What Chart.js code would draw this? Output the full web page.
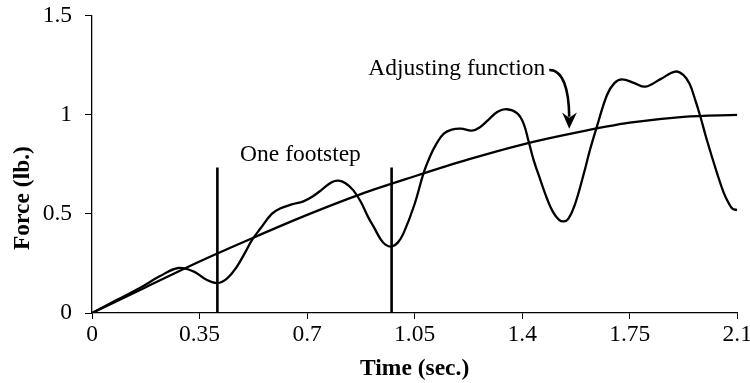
<!DOCTYPE html>
<html>
<head>
<meta charset="utf-8">
<script src="https://cdn.jsdelivr.net/npm/chart.js@4.4.1/dist/chart.umd.min.js"></script>
<style>
  html, body { margin: 0; padding: 0; background: #fff; }
  #wrap { width: 750px; height: 383px; position: relative; }
</style>
</head>
<body>
<div id="wrap"><canvas id="c" width="750" height="383"></canvas></div>
<script>
// ---- data ----
const forceTimes  = [0, 0.08, 0.16, 0.22, 0.281, 0.33, 0.37, 0.408, 0.44, 0.47, 0.50, 0.521, 0.55, 0.585, 0.612, 0.65, 0.688, 0.72, 0.75, 0.78, 0.802, 0.825, 0.85, 0.875, 0.90, 0.916, 0.94, 0.955, 0.975, 0.995, 1.014, 1.05, 1.079, 1.10, 1.122, 1.145, 1.171, 1.2, 1.236, 1.26, 1.29, 1.32, 1.35, 1.383, 1.404, 1.421, 1.437, 1.459, 1.48, 1.50, 1.52, 1.535, 1.55, 1.57, 1.60, 1.62, 1.643, 1.676, 1.70, 1.725, 1.765, 1.801, 1.85, 1.898, 1.925, 1.945, 1.962, 1.98, 2.001, 2.034, 2.055, 2.07, 2.085, 2.1];
const forceValues = [0, 0.065, 0.13, 0.185, 0.227, 0.21, 0.17, 0.151, 0.175, 0.23, 0.31, 0.369, 0.43, 0.50, 0.527, 0.548, 0.563, 0.59, 0.625, 0.66, 0.668, 0.655, 0.62, 0.56, 0.48, 0.437, 0.37, 0.345, 0.335, 0.355, 0.403, 0.55, 0.706, 0.79, 0.857, 0.905, 0.925, 0.93, 0.92, 0.935, 0.975, 1.015, 1.028, 1.008, 0.958, 0.865, 0.773, 0.672, 0.58, 0.51, 0.47, 0.462, 0.475, 0.54, 0.70, 0.82, 0.94, 1.10, 1.16, 1.179, 1.16, 1.142, 1.18, 1.218, 1.20, 1.155, 1.08, 0.99, 0.873, 0.706, 0.61, 0.56, 0.525, 0.52];

const adjTimes  = [0, 0.175, 0.35, 0.525, 0.7, 0.875, 1.05, 1.225, 1.4, 1.575, 1.75, 1.925, 2.1];
const adjValues = [0, 0.13, 0.26, 0.38, 0.495, 0.60, 0.69, 0.775, 0.85, 0.91, 0.96, 0.99, 1.0];

const footstepTimes  = [0.408, 0.975];
const footstepHeight = 0.734;

const xTickValues = [0, 0.35, 0.7, 1.05, 1.4, 1.75, 2.1];
const xTickLabels = ['0', '0.35', '0.7', '1.05', '1.4', '1.75', '2.1'];
const yTickValues = [0, 0.5, 1, 1.5];
const yTickLabels = ['0', '0.5', '1', '1.5'];

const xTitle = 'Time (sec.)';
const yTitle = 'Force (lb.)';
const footstepLabel = 'One footstep';
const adjustLabel = 'Adjusting function';

// ---- build datasets ----
const toPts = (xs, ys) => xs.map((x, i) => ({ x: x, y: ys[i] }));
const FONT = '"Liberation Serif", "Times New Roman", serif';
const FS = 23.5;

const datasets = [
  {
    label: 'Force',
    data: toPts(forceTimes, forceValues),
    borderColor: '#000', borderWidth: 2.3, pointRadius: 0,
    tension: 0.4, fill: false
  },
  {
    label: 'Adjusting function',
    data: toPts(adjTimes, adjValues),
    borderColor: '#000', borderWidth: 2.3, pointRadius: 0,
    cubicInterpolationMode: 'monotone', fill: false
  }
];
footstepTimes.forEach((t, i) => {
  datasets.push({
    label: 'Footstep ' + (i + 1),
    data: [{ x: t, y: 0 }, { x: t, y: footstepHeight }],
    borderColor: '#000', borderWidth: 2.6, pointRadius: 0, tension: 0, fill: false
  });
});

// ---- annotation plugin (text + curved arrow, placed in data coordinates) ----
const annotations = {
  id: 'annotations',
  afterDatasetsDraw(chart) {
    const { ctx } = chart;
    const xs = chart.scales.x, ys = chart.scales.y;
    const P = (t, v) => [xs.getPixelForValue(t), ys.getPixelForValue(v)];
    ctx.save();
    ctx.fillStyle = '#000';
    ctx.strokeStyle = '#000';
    ctx.font = FS + 'px ' + FONT;
    ctx.textBaseline = 'alphabetic';
    ctx.textAlign = 'left';
    let p = P(0.482, 0.768);
    ctx.fillText(footstepLabel, p[0], p[1]);
    ctx.textAlign = 'right';
    p = P(1.475, 1.201);
    ctx.fillText(adjustLabel, p[0], p[1]);

    // curved arrow
    const s = P(1.488, 1.226), c1 = P(1.532, 1.228), c2 = P(1.552, 1.13), e = P(1.553, 0.99);
    ctx.lineWidth = 2.6;
    ctx.beginPath();
    ctx.moveTo(s[0], s[1]);
    ctx.bezierCurveTo(c1[0], c1[1], c2[0], c2[1], e[0], e[1]);
    ctx.stroke();
    const tip = P(1.553, 0.929), lb = P(1.530, 1.012), nt = P(1.553, 0.985), rb = P(1.578, 1.012);
    ctx.beginPath();
    ctx.moveTo(tip[0], tip[1]);
    ctx.lineTo(lb[0], lb[1]);
    ctx.lineTo(nt[0], nt[1]);
    ctx.lineTo(rb[0], rb[1]);
    ctx.closePath();
    ctx.fill();
    ctx.restore();
  },
  afterDraw(chart) {
    // y-axis title, centered as in the reference
    const { ctx } = chart;
    const ys = chart.scales.y;
    const cy = ys.getPixelForValue(0.58);
    ctx.save();
    ctx.fillStyle = '#000';
    ctx.font = 'bold ' + FS + 'px ' + FONT;
    ctx.textAlign = 'center';
    ctx.textBaseline = 'middle';
    ctx.translate(23, cy);
    ctx.rotate(-Math.PI / 2);
    ctx.fillText(yTitle, 0, 0);
    ctx.restore();
  }
};

new Chart(document.getElementById('c'), {
  type: 'line',
  data: { datasets: datasets },
  options: {
    responsive: false,
    animation: false,
    parsing: true,
    layout: { padding: { left: 0, right: 12.7, top: 15.7, bottom: 0 } },
    plugins: {
      legend: { display: false },
      tooltip: { enabled: false }
    },
    scales: {
      x: {
        type: 'linear',
        min: 0, max: 2.1,
        afterBuildTicks(scale) { scale.ticks = xTickValues.map(v => ({ value: v })); },
        afterFit(scale) { scale.height = 70; scale.paddingLeft = 0; scale.paddingRight = 0; },
        ticks: {
          callback: (v, i) => xTickLabels[i],
          font: { family: FONT, size: FS },
          color: '#000',
          padding: 2,
          maxRotation: 0, autoSkip: false
        },
        grid: { drawOnChartArea: false, drawTicks: true, tickLength: 6, color: '#000', lineWidth: 1 },
        border: { display: true, color: '#000', width: 1.3 },
        title: {
          display: true, text: xTitle, color: '#000',
          font: { family: FONT, size: FS, weight: 'bold' },
          padding: { top: 0, bottom: 0 }
        }
      },
      y: {
        type: 'linear',
        min: 0, max: 1.5,
        afterBuildTicks(scale) { scale.ticks = yTickValues.map(v => ({ value: v })); },
        afterFit(scale) { scale.width = 92; scale.paddingTop = 0; scale.paddingBottom = 0; },
        ticks: {
          callback: (v, i) => yTickLabels[i],
          font: { family: FONT, size: FS },
          color: '#000',
          padding: 13
        },
        grid: { drawOnChartArea: false, drawTicks: true, tickLength: 7, color: '#000', lineWidth: 1 },
        border: { display: true, color: '#000', width: 1.3 }
      }
    }
  },
  plugins: [annotations]
});
</script>
</body>
</html>
